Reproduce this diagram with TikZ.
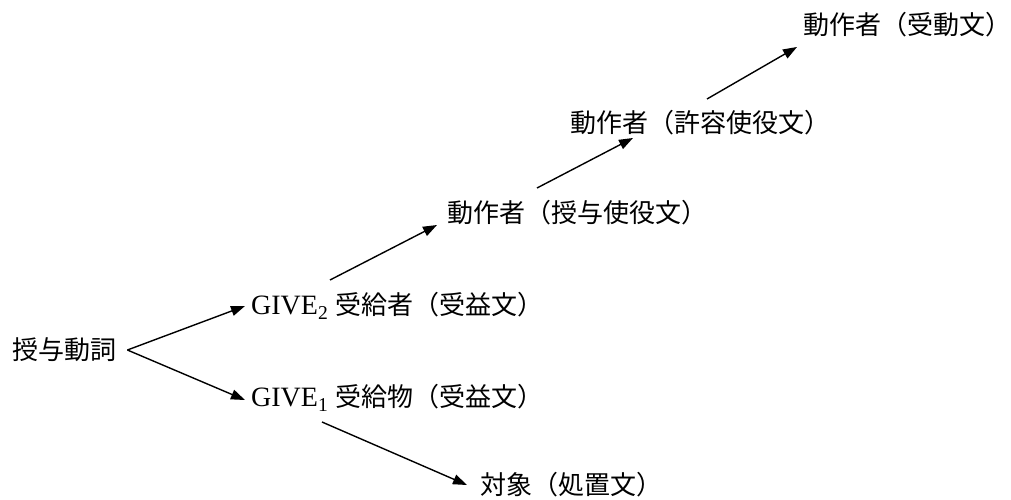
\documentclass[tikz,border=0pt]{standalone}
\usepackage{fontspec}
\setmainfont{Liberation Serif}
\newfontfamily\cjk{Noto Sans CJK JP}
\usetikzlibrary{arrows.meta}
\newcommand{\givelbl}[1]{{\rmfamily\fontsize{28}{30}\selectfont GIVE\textsubscript{#1}}\hspace{7pt}}
\begin{document}
\begin{tikzpicture}[x=1pt,y=1pt,
  lbl/.style={anchor=west,inner sep=0pt,font=\fontsize{26}{30}\selectfont\cjk},
  arr/.style={line width=1.4pt,-{Triangle[length=14pt,width=10pt]}}]
\useasboundingbox (0,0) rectangle (1011,499);
\node[lbl] (root) at (12,149) {授与動詞};
\node[lbl] (give2) at (251,193) {\givelbl{2}受給者（受益文）};
\node[lbl] (give1) at (251,101) {\givelbl{1}受給物（受益文）};
\node[lbl] (act1) at (447,286) {動作者（授与使役文）};
\node[lbl] (act2) at (570,376) {動作者（許容使役文）};
\node[lbl] (act3) at (803,474) {動作者（受動文）};
\node[lbl] (obj) at (480,14) {対象（処置文）};
\coordinate (fork) at ([xshift=11pt]root.east);
\draw[arr] (fork) -- ([xshift=-6pt]give2.west);
\draw[arr] (fork) -- ([xshift=-6pt,yshift=-2pt]give1.west);
\draw[arr] ([shift={(79,26)}]give2.west) -- ([shift={(-10,-12)}]act1.west);
\draw[arr] ([shift={(90,25)}]act1.west) -- ([shift={(63,-15)}]act2.west);
\draw[arr] ([shift={(137,24)}]act2.west) -- ([shift={(-6,-22)}]act3.west);
\draw[arr] ([shift={(71,-24)}]give1.west) -- ([xshift=-13pt]obj.west);
\end{tikzpicture}
\end{document}
